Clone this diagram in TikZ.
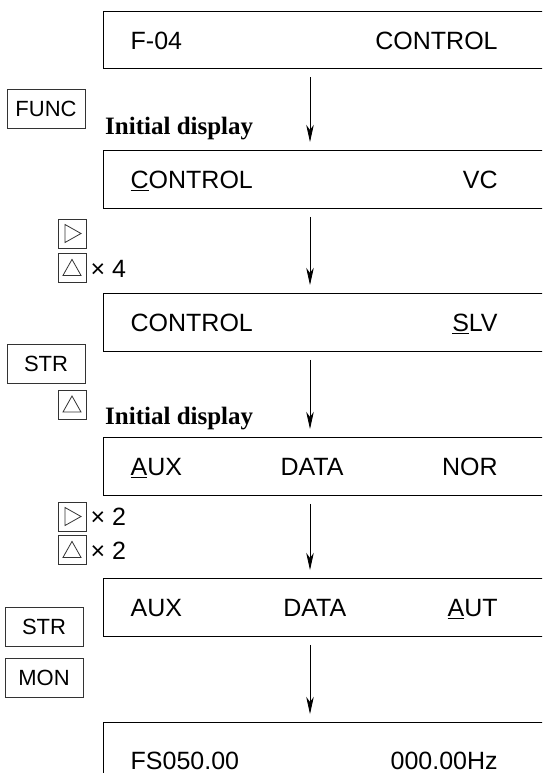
\documentclass[tikz,border=0pt]{standalone}
\usepackage{fontspec}
\setmainfont{Liberation Sans}
\newfontfamily\notefont{Liberation Serif}
\usetikzlibrary{arrows.meta, positioning}
\newcommand{\dline}[1]{\makebox[367pt]{#1}\kern90pt}

\begin{document}
\begin{tikzpicture}[
  x=1pt, y=-1pt,
  disp/.style  = {draw, line width=1.3pt, anchor=north west, inner xsep=27pt,
                  inner ysep=0pt, minimum height=57.5pt, text height=18pt,
                  text depth=0pt, font=\fontsize{25}{30}\selectfont},
  key/.style   = {draw=black!80, line width=0.9pt, minimum width=78pt,
                  minimum height=39pt, inner sep=0pt,
                  font=\fontsize{22}{26}\selectfont},
  arrkey/.style= {draw=black!80, line width=0.9pt, minimum width=28pt,
                  minimum height=29pt, inner sep=0pt},
  rkey/.style  = {arrkey, path picture={
                  \draw[line width=0.8pt] ([xshift=-7pt,yshift=9pt]path picture bounding box.center)
                    -- ++(16pt,-9pt) -- ++(-16pt,-9pt) -- cycle;}},
  ukey/.style  = {arrkey, path picture={
                  \draw[line width=0.8pt] ([xshift=-9pt,yshift=-7pt]path picture bounding box.center)
                    -- ++(18pt,0pt) -- ++(-9pt,16pt) -- cycle;}},
  mult/.style  = {inner sep=0pt, anchor=west, font=\fontsize{25}{30}\selectfont},
  note/.style  = {inner sep=0pt, anchor=base west,
                  font=\notefont\bfseries\fontsize{25}{30}\selectfont},
  arr/.style   = {-{Stealth[length=17pt, width=7.5pt, inset=5pt]}, line width=0.8pt,
                  shorten <=8pt, shorten >=8pt},
]
  \useasboundingbox (0,0) rectangle (542,773);
  \clip (0,0) rectangle (542,773);

  % display screens
  \node[disp] (d1) at (103,10.7) {\dline{F-04\hfill CONTROL}};
  \node[disp] (d2) at (103,150)  {\dline{\underline{C}ONTROL\hfill VC}};
  \node[disp] (d3) at (103,293)  {\dline{CONTROL\hfill \underline{S}LV}};
  \node[disp] (d4) at (103,437)  {\dline{\underline{A}UX\hfill DATA\hfill NOR}};
  \node[disp] (d5) at (103,578)  {\dline{AUX\hfill DATA\hfill \underline{A}UT}};
  \node[disp, minimum height=76pt] (d6) at (103,722) {\dline{FS050.00\hfill 000.00Hz}};

  \coordinate (ax) at (310,0);
  \draw[arr] (d1.south -| ax) -- (d2.north -| ax);
  \draw[arr] (d2.south -| ax) -- (d3.north -| ax);
  \draw[arr] (d3.south -| ax) -- (d4.north -| ax);
  \draw[arr] (d4.south -| ax) -- (d5.north -| ax);
  \draw[arr] (d5.south -| ax) -- (d6.north -| ax);

  % keys pressed
  \node[key] (func) at (46,108.5) {FUNC};
  \node[note] (init1) at (105,135) {Initial display};

  \node[rkey] (r1) at (72,233.5) {};
  \node[ukey, below=5pt of r1] (u1) {};
  \node[mult, right=4pt of u1] (n1) {× 4};

  \node[key] (str1) at (46,363.5) {STR};
  \node[ukey] (u2) at (72,405) {};
  \node[note] (init2) at (105,424) {Initial display};

  \node[rkey] (r2) at (72,516.5) {};
  \node[mult, right=4pt of r2] (n2) {× 2};
  \node[ukey, below=4pt of r2] (u3) {};
  \node[mult, right=4pt of u3] (n3) {× 2};

  \node[key] (str2) at (44,627) {STR};
  \node[key, below=11pt of str2] (mon) {MON};
\end{tikzpicture}
\end{document}
